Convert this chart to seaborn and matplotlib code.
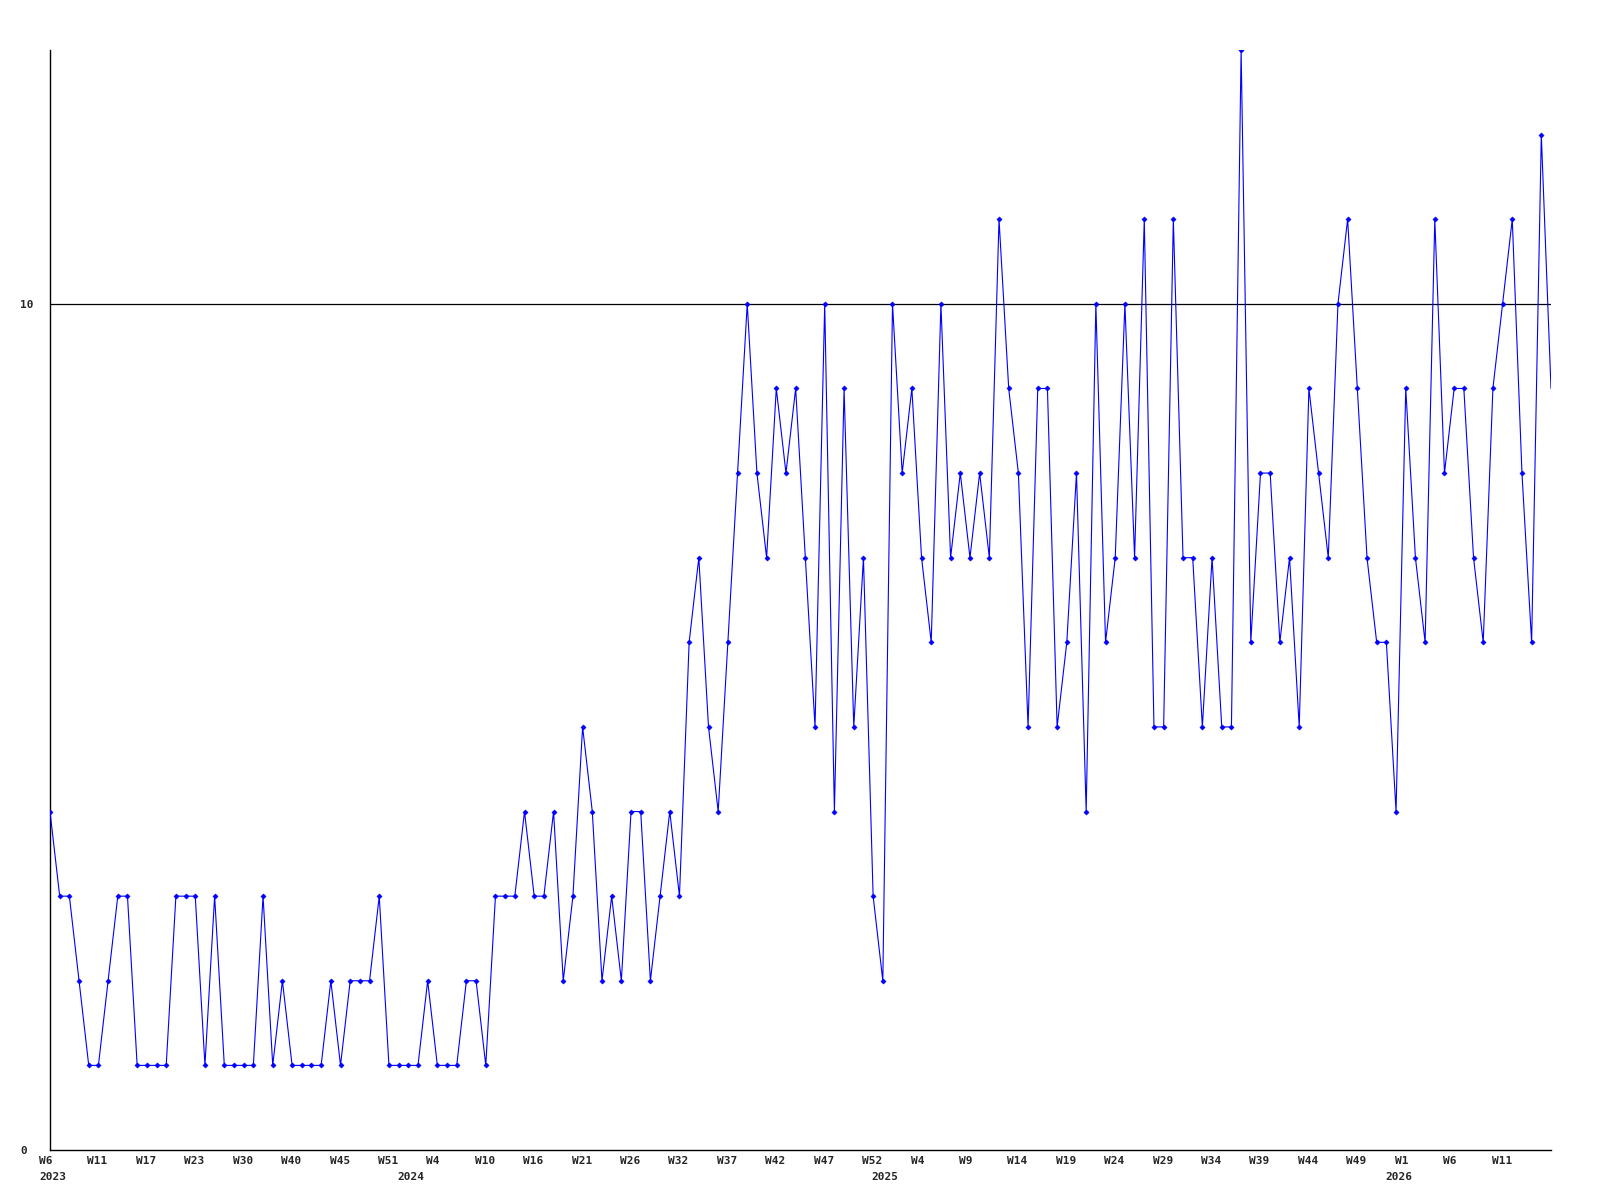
import numpy as np
import pandas as pd
import matplotlib
matplotlib.use("Agg")
import matplotlib.pyplot as plt
import matplotlib.transforms as mtrans
import seaborn as sns

# ---- data (weekly counts, in order of the category axis) ----
counts = [
    4, 3, 3, 2, 1, 1, 2, 3, 3, 1, 1, 1, 1, 3, 3, 3, 1, 3, 1, 1,
    1, 1, 3, 1, 2, 1, 1, 1, 1, 2, 1, 2, 2, 2, 3, 1, 1, 1, 1, 2,
    1, 1, 1, 2, 2, 1, 3, 3, 3, 4, 3, 3, 4, 2, 3, 5, 4, 2, 3, 2,
    4, 4, 2, 3, 4, 3, 6, 7, 5, 4, 6, 8, 10, 8, 7, 9, 8, 9, 7, 5,
    10, 4, 9, 5, 7, 3, 2, 10, 8, 9, 7, 6, 10, 7, 8, 7, 8, 7, 11, 9,
    8, 5, 9, 9, 5, 6, 8, 4, 10, 6, 7, 10, 7, 11, 5, 5, 11, 7, 7, 5,
    7, 5, 5, 13, 6, 8, 8, 6, 7, 5, 9, 8, 7, 10, 11, 9, 7, 6, 6, 4,
    9, 7, 6, 11, 8, 9, 9, 7, 6, 9, 10, 11, 8, 6, 12, 9,
]
week_labels = [
    "W6", "W11", "W17", "W23", "W30", "W40", "W45", "W51", "W4", "W10",
    "W16", "W21", "W26", "W32", "W37", "W42", "W47", "W52", "W4", "W9",
    "W14", "W19", "W24", "W29", "W34", "W39", "W44", "W49", "W1", "W6", "W11",
]
label_every = 5
year_labels = ["2023", "2024", "2025", "2026"]
year_start_idx = [0, 37, 86, 139]
y_ticks = [0, 10]

df = pd.DataFrame({"idx": np.arange(len(counts)), "count": counts})

sns.set_style("white")
plt.rcParams["font.family"] = ["DejaVu Sans Mono", "DejaVu Sans"]

fig = plt.figure(figsize=(16, 12), dpi=100)
ax = fig.add_axes([50 / 1600, 50 / 1200, 1501 / 1600, 1100 / 1200])

ax.axhline(10, color="black", lw=0.9, zorder=1)
sns.lineplot(data=df, x="idx", y="count", ax=ax, color="#0000ff",
             lw=0.8, marker="D", markersize=2.7, markeredgewidth=0.3,
             markeredgecolor="#0000ff", markevery=list(range(len(counts) - 1)),
             zorder=3)

ax.set_xlim(0, len(counts) - 1)
ax.set_ylim(0, 13)

for s in ["top", "right"]:
    ax.spines[s].set_visible(False)
for s in ["left", "bottom"]:
    ax.spines[s].set_color("black")
    ax.spines[s].set_linewidth(1.0)

ax.set_xlabel("")
ax.set_ylabel("")

ax.set_xticks(np.arange(len(week_labels)) * label_every)
ax.set_xticklabels(week_labels, fontsize=8, fontweight="bold")
ax.tick_params(axis="x", length=0, pad=4)
off = mtrans.ScaledTranslation(-11 / 100, 0, fig.dpi_scale_trans)
for lab in ax.get_xticklabels():
    lab.set_horizontalalignment("left")
    lab.set_transform(lab.get_transform() + off)

ax.set_yticks(y_ticks)
ax.set_yticklabels([str(v) for v in y_ticks], fontsize=8, fontweight="bold")
ax.tick_params(axis="y", length=0, pad=21.6)
for lab in ax.get_yticklabels():
    lab.set_horizontalalignment("left")

for yl, xi in zip(year_labels, year_start_idx):
    ax.annotate(yl, xy=(xi, 0), xycoords=("data", "axes fraction"),
                xytext=(-11, -22), textcoords="offset pixels",
                ha="left", va="top", fontsize=8, fontweight="bold",
                annotation_clip=False)

fig.savefig("out.png", dpi=100, facecolor="white")
